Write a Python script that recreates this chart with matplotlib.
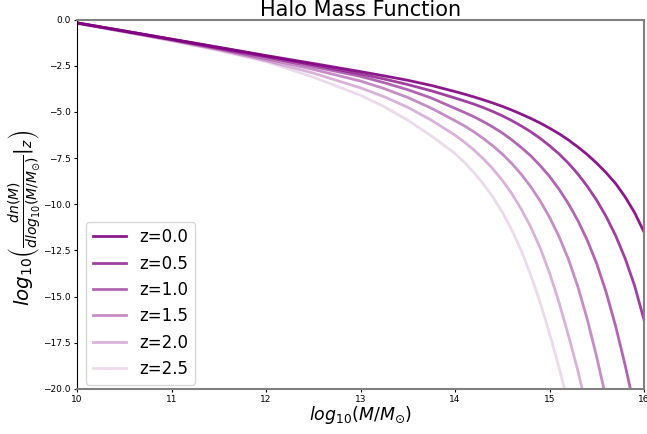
import numpy as np
import matplotlib
matplotlib.use("Agg")
import matplotlib.pyplot as plt

# log10 halo mass grid (finer sampling where the curves bend)
log_mass = [10.0, 10.5, 11.0, 11.5, 12.0, 12.5, 13.0, 13.25, 13.5, 13.75,
            14.0, 14.1, 14.2, 14.3, 14.4, 14.5, 14.6, 14.7, 14.8, 14.9,
            15.0, 15.1, 15.2, 15.3, 15.4, 15.5, 15.6, 15.7, 15.8, 15.9, 16.0]

# log10 dn/dlog10(M) for each redshift
hmf_z00 = [-0.18, -0.62, -1.06, -1.50, -1.95, -2.38, -2.82, -3.05, -3.29, -3.57,
           -3.90, -4.04, -4.19, -4.35, -4.52, -4.70, -4.90, -5.12, -5.35, -5.60,
           -5.88, -6.18, -6.52, -6.90, -7.31, -7.78, -8.30, -8.88, -9.60, -10.45, -11.50]
hmf_z05 = [-0.18, -0.62, -1.07, -1.52, -1.98, -2.45, -2.95, -3.22, -3.52, -3.86,
           -4.25, -4.41, -4.58, -4.77, -4.98, -5.21, -5.47, -5.76, -6.07, -6.43,
           -6.83, -7.27, -7.78, -8.36, -9.03, -9.79, -10.67, -11.70, -12.93, -14.40, -16.25]
hmf_z10 = [-0.19, -0.63, -1.08, -1.55, -2.03, -2.55, -3.08, -3.42, -3.80, -4.25,
           -4.81, -5.03, -5.26, -5.53, -5.82, -6.14, -6.51, -6.92, -7.37, -7.90,
           -8.49, -9.18, -9.97, -10.88, -11.95, -13.22, -14.77, -16.60, -18.70, -21.00, -23.60]
hmf_z15 = [-0.20, -0.65, -1.10, -1.59, -2.12, -2.70, -3.33, -3.74, -4.22, -4.80,
           -5.48, -5.76, -6.08, -6.44, -6.84, -7.28, -7.79, -8.37, -9.04, -9.81,
           -10.70, -11.74, -12.97, -14.46, -16.23, -18.28, -20.54, -23.08, -25.80, -29.00, -32.50]
hmf_z20 = [-0.20, -0.66, -1.13, -1.64, -2.22, -2.90, -3.70, -4.18, -4.75, -5.45,
           -6.26, -6.64, -7.06, -7.54, -8.08, -8.70, -9.42, -10.25, -11.22, -12.35,
           -13.71, -15.30, -17.10, -19.00, -21.20, -23.60, -27.40, -31.00, -35.00, -39.00, -44.00]
hmf_z25 = [-0.21, -0.68, -1.16, -1.68, -2.28, -3.12, -4.10, -4.72, -5.45, -6.30,
           -7.25, -7.74, -8.28, -8.90, -9.60, -10.42, -11.38, -12.50, -13.80, -15.30,
           -16.98, -18.82, -20.82, -23.00, -25.40, -28.00, -31.00, -34.00, -37.50, -41.00, -45.00]

redshifts = [0.0, 0.5, 1.0, 1.5, 2.0, 2.5]
curves = [hmf_z00, hmf_z05, hmf_z10, hmf_z15, hmf_z20, hmf_z25]

fig = plt.figure(figsize=(6.47, 4.34), dpi=100)
ax = fig.add_axes([77 / 647, 45 / 434, 567 / 647, 369.5 / 434])

for i, (z, hmf) in enumerate(zip(redshifts, curves)):
    alpha = 0.9 - 0.15 * i
    ax.plot(log_mass, hmf, color="purple", alpha=alpha, lw=2, label=f"z={z}")

ax.set_xlim(10, 16)
ax.set_ylim(-20, 0)
ax.tick_params(labelsize=6.5, length=2.5, pad=2)

for side in ["top", "right", "bottom"]:
    ax.spines[side].set_color("gray")
    ax.spines[side].set_linewidth(1.5)

ax.set_title("Halo Mass Function", fontsize=15, pad=2.5)
ax.set_xlabel(r"$log_{10}(M/M_{\odot})$", fontsize=12.5, labelpad=0)
ax.set_ylabel(r"$log_{10}\left(\frac{dn(M)}{dlog_{10}(M/M_{\odot})}|_z\right)$",
              fontsize=14.3)
ax.yaxis.set_label_coords(-0.058, 0.463)
ax.legend(loc="lower left", fontsize=12, borderaxespad=0,
          bbox_to_anchor=(0.016, 0.012))

fig.savefig("out.png", dpi=100)
